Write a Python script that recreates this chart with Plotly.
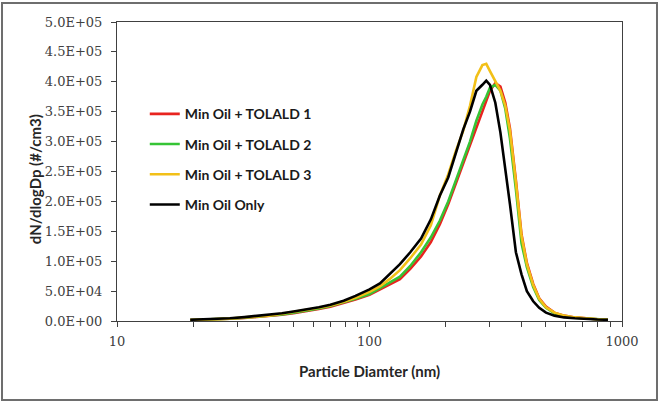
import plotly.graph_objects as go

diam = [19.5, 22, 25, 28, 32, 36, 40, 45, 50, 56, 63, 70, 79, 88, 100, 110, 120, 132, 145,
        160, 175, 190, 205, 220, 235, 250, 265, 280, 290, 300, 315, 330, 345, 360, 380, 400,
        420, 445, 470, 500, 540, 590, 650, 720, 800, 880]

tolald1 = [1.5, 2, 2.8, 3.8, 5, 6.5, 8, 10.5, 13, 16, 20, 24, 30, 36, 44, 53, 61, 70, 87,
           108, 132, 162, 195, 230, 265, 295, 325, 352, 368, 385, 398, 392, 365, 322, 235, 145,
           97, 62, 38, 24, 14, 9, 6, 4, 3, 2]
tolald2 = [1.5, 2, 3, 4, 5.5, 7, 8.5, 11, 14, 17, 21, 25, 31, 37, 45, 55, 64, 74, 92,
           115, 140, 168, 200, 235, 270, 300, 335, 362, 375, 390, 395, 385, 355, 305, 220, 130,
           90, 57, 35, 22, 13, 8, 5.5, 4, 3, 2]
tolald3 = [1.5, 2, 3, 4, 6, 7.5, 9, 12, 15, 18, 22, 26, 32, 39, 49, 58, 70, 85, 105,
           128, 160, 210, 245, 285, 318, 360, 408, 428, 430, 418, 400, 385, 360, 318, 232, 142,
           95, 60, 37, 23, 14, 9, 6, 4, 3, 2]
oil_only = [2, 2.5, 3.5, 4.5, 6.5, 8.5, 10, 13, 16, 19, 23, 27, 34, 42, 53, 63, 78, 95, 115,
            138, 170, 210, 240, 280, 320, 350, 385, 395, 402, 395, 365, 315, 255, 195, 115, 78,
            50, 33, 22, 14, 9, 6, 4.5, 3, 2.5, 2]

names = ["Min Oil + TOLALD 1", "Min Oil + TOLALD 2", "Min Oil + TOLALD 3", "Min Oil Only"]
series = [tolald1, tolald2, tolald3, oil_only]
colors = ["#e8231f", "#35c435", "#f2c018", "#000000"]

yticks = [0, 5e4, 1e5, 1.5e5, 2e5, 2.5e5, 3e5, 3.5e5, 4e5, 4.5e5, 5e5]
yticklabels = ["0.0E+00", "5.0E+04", "1.0E+05", "1.5E+05", "2.0E+05", "2.5E+05",
               "3.0E+05", "3.5E+05", "4.0E+05", "4.5E+05", "5.0E+05"]
xticks = [10, 100, 1000]
xticklabels = ["10", "100", "1000"]
xminor = [20, 30, 40, 50, 60, 70, 80, 90, 200, 300, 400, 500, 600, 700, 800, 900]

fig = go.Figure()
for i, (nm, s, c) in enumerate(zip(names, series, colors)):
    fig.add_trace(go.Scatter(x=diam, y=[v * 1000 for v in s], mode="lines", name=nm,
                             legendgroup=str(i),
                             line=dict(color=c, width=2.6)))

tickfont = dict(family="DejaVu Serif", size=13, color="#404040")
fig.update_layout(
    width=660, height=403,
    margin=dict(l=117, r=38, t=22, b=82),
    paper_bgcolor="white", plot_bgcolor="white",
    showlegend=True,
    legend=dict(x=0.055, y=0.745, xanchor="left", yanchor="top",
                font=dict(family="Lato", size=14, color="#1a1a1a", weight="bold"),
                tracegroupgap=9, bgcolor="rgba(0,0,0,0)", itemwidth=30),
    xaxis=dict(type="log", range=[1, 3], tickvals=xticks, ticktext=xticklabels,
               ticks="outside", ticklen=5, tickcolor="#404040", showgrid=False,
               showline=True, linecolor="#404040", linewidth=1, mirror=True,
               tickfont=tickfont, zeroline=False, ticklabelstandoff=3,
               minor=dict(tickvals=xminor, ticks="outside", ticklen=5, tickcolor="#404040",
                          showgrid=False)),
    yaxis=dict(range=[0, 5e5], tickvals=yticks, ticktext=yticklabels,
               ticks="outside", ticklen=5, tickcolor="#404040", showgrid=False,
               showline=True, linecolor="#404040", linewidth=1, mirror=True,
               tickfont=tickfont, zeroline=False, ticklabelstandoff=6),
    annotations=[
        dict(text="Particle Diamter (nm)", xref="paper", yref="paper", x=0.5, y=-0.168,
             xanchor="center", yanchor="middle", showarrow=False,
             font=dict(family="Lato", size=15, color="#262626", weight="bold")),
        dict(text="dN/dlogDp (#/cm3)", xref="paper", yref="paper", x=-0.162, y=0.475,
             xanchor="center", yanchor="middle", showarrow=False, textangle=-90,
             font=dict(family="Lato", size=15, color="#262626", weight="bold")),
    ],
    shapes=[dict(type="rect", xref="paper", yref="paper", x0=-0.2277, x1=1.0693,
                 y0=-0.2642, y1=1.0635, line=dict(color="#6e6e6e", width=2))],
)

fig.write_html("out.html")
